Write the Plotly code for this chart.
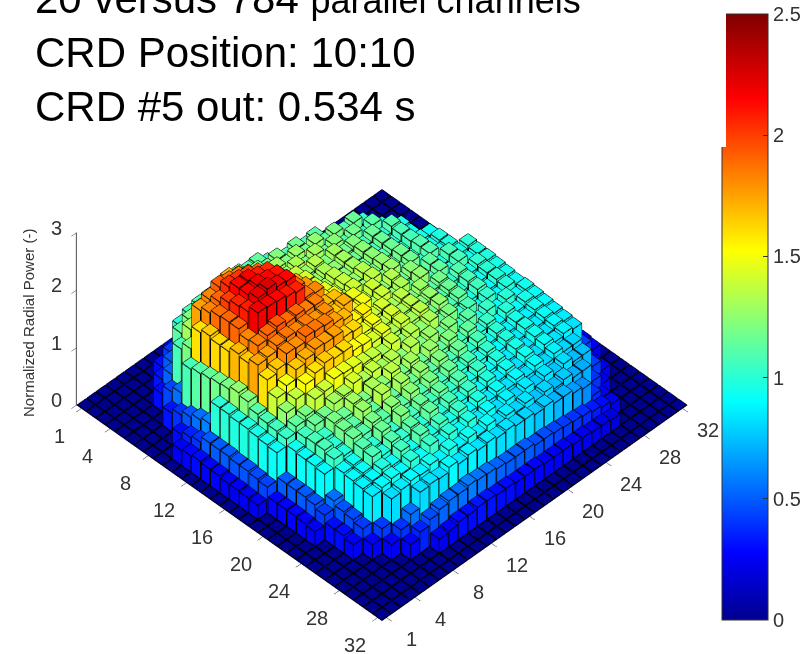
import numpy as np
import plotly.graph_objects as go

TITLE_LINE_1 = '20 versus 784 <span style="font-size:36px">parallel channels</span>'
TITLE_LINE_2 = 'CRD Position: 10:10'
TITLE_LINE_3 = 'CRD #5 out: 0.534 s'
Z_TITLE = 'Normalized Radial Power (-)'
AXIS_TICKS = [1, 4, 8, 12, 16, 20, 24, 28, 32]
Z_TICKS = [0, 1, 2, 3]
CBAR_TICKS = [0, 0.5, 1, 1.5, 2, 2.5]
CBAR_TICKTEXT = ['0', '0.5', '1', '1.5', '2', '2.5']

# (number of empty leading channels, channel values) per row
rows = [
 (0, []),
 (8, [.24,.28,.3,.3,.3,.26,.24]),
 (6, [.3,.42,.5,.55,.58,.58,.55,.55,.5,.48,.4,.3]),
 (5, [.32,.5,1.0,1.08,1.12,1.08,1.15,1.12,1.18,1.12,1.14,1.02,.98,.6,.36]),
 (4, [.3,.52,1.12,1.22,1.28,1.2,1.3,1.2,1.26,1.18,1.24,1.16,1.22,1.12,1.18,1.08,1.12,.6,.34]),
 (4, [.45,1.08,1.3,1.52,1.6,1.66,1.7,1.62,1.48,1.42,1.26,1.3,1.22,1.28,1.18,1.26,1.14,1.2,1.1,1.16,1.02,.55,.32]),
 (3, [.32,.55,1.2,1.75,1.82,1.92,1.88,1.84,1.76,1.66,1.46,1.4,1.26,1.32,1.2,1.3,1.16,1.24,1.1,1.18,1.02,1.12,.95,.52,.3]),
 (3, [.4,1.08,1.6,1.82,1.9,2.04,2.02,1.98,1.9,1.78,1.6,1.38,1.38,1.28,1.34,1.22,1.3,1.18,1.22,1.08,1.16,1.0,1.1,.96,.52,.32]),
 (2, [.3,.48,1.12,1.66,1.88,2.0,2.14,2.15,2.08,2.04,1.84,1.66,1.42,1.42,1.26,1.32,1.24,1.3,1.16,1.24,1.08,1.16,.98,1.08,.94,.54,.32]),
 (1, [.26,.36,.55,1.15,1.62,1.9,2.06,2.14,2.18,2.14,2.1,1.86,1.72,1.46,1.42,1.28,1.36,1.24,1.3,1.16,1.24,1.1,1.16,.98,1.08,.96,.94,.52,.3]),
 (1, [.28,.4,.6,1.18,1.62,1.9,2.08,2.2,2.24,2.16,2.14,1.9,1.78,1.52,1.46,1.3,1.38,1.26,1.34,1.18,1.26,1.08,1.18,.98,1.1,.94,.98,.54,.32]),
 (1, [.3,.5,1.0,1.2,1.7,1.82,2.18,2.16,2.14,2.1,2.06,1.86,1.82,1.56,1.5,1.32,1.4,1.26,1.36,1.2,1.28,1.1,1.18,1.0,1.1,.96,.98,.56,.32]),
 (1, [.28,.5,1.0,1.26,1.66,1.84,1.9,1.94,1.88,1.9,1.84,1.84,1.7,1.68,1.42,1.48,1.3,1.4,1.24,1.34,1.16,1.24,1.04,1.14,.98,1.08,.96,1.0,.52,.3]),
 (1, [.28,.5,.98,1.22,1.74,1.76,1.84,1.86,1.82,1.84,1.78,1.8,1.66,1.72,1.46,1.5,1.32,1.4,1.24,1.32,1.14,1.26,1.06,1.14,.98,1.08,.94,.98,.52,.3]),
 (1, [.26,.48,.98,1.12,1.6,1.66,1.82,1.8,1.88,1.86,1.84,1.76,1.7,1.54,1.56,1.38,1.42,1.3,1.36,1.2,1.28,1.12,1.18,1.02,1.1,.96,1.02,.98,.5,.3]),
 (1, [.26,.48,.96,1.08,1.4,1.5,1.66,1.72,1.78,1.76,1.76,1.64,1.62,1.46,1.5,1.34,1.42,1.32,1.36,1.22,1.26,1.1,1.16,.98,1.08,.94,1.0,.96,.5,.3]),
 (1, [.25,.46,.94,1.06,1.26,1.38,1.52,1.6,1.66,1.62,1.62,1.52,1.5,1.42,1.46,1.32,1.4,1.3,1.36,1.18,1.26,1.08,1.14,.96,1.06,.92,1.0,.94,.5,.3]),
 (1, [.24,.44,.92,1.04,1.14,1.2,1.38,1.4,1.5,1.48,1.46,1.4,1.38,1.32,1.4,1.26,1.34,1.26,1.32,1.14,1.2,1.04,1.08,.92,1.02,.9,.98,.92,.48,.28]),
 (2, [.28,.5,.94,1.06,1.16,1.18,1.3,1.32,1.42,1.32,1.38,1.3,1.34,1.24,1.34,1.22,1.28,1.16,1.22,1.06,1.12,.96,1.04,.92,1.0,.9,.94,.48,.28]),
 (2, [.28,.5,.92,1.08,1.04,1.2,1.16,1.3,1.2,1.32,1.24,1.36,1.2,1.3,1.16,1.28,1.14,1.22,1.06,1.14,.98,1.04,.9,1.0,.9,.96,.92,.48,.28]),
 (2, [.28,.5,.92,1.08,1.0,1.18,1.12,1.28,1.14,1.34,1.14,1.3,1.16,1.26,1.12,1.22,1.08,1.16,1.0,1.08,.92,1.0,.88,.96,.88,.94,.9,.46,.26]),
 (2, [.27,.48,.9,1.04,.98,1.16,1.1,1.2,1.12,1.24,1.12,1.24,1.1,1.2,1.06,1.16,1.02,1.08,.96,1.02,.9,.98,.86,.96,.86,.92,.88,.46,.26]),
 (2, [.25,.42,.55,.92,.94,1.1,1.0,1.16,1.02,1.2,1.06,1.16,1.06,1.14,1.02,1.1,.96,1.04,.9,.98,.86,.96,.84,.94,.84,.9,.86,.44,.26]),
 (3, [.3,.48,.9,.92,1.08,.98,1.1,1.02,1.12,1.0,1.14,.98,1.08,.96,1.04,.9,.98,.86,.94,.84,.94,.82,.92,.84,.88,.84,.42,.24]),
 (3, [.3,.46,.88,.9,.98,.92,1.06,.94,1.1,.96,1.06,.96,1.04,.9,.98,.86,.92,.84,.9,.82,.9,.8,.88,.8,.8,.44,.24]),
 (3, [.26,.42,.86,.9,.94,.9,1.0,.92,1.04,.92,1.0,.9,.98,.86,.92,.82,.88,.8,.86,.78,.84,.76,.82,.74,.74,.42,.24]),
 (4, [.26,.42,.82,.86,.9,.88,.94,.88,.96,.88,.94,.86,.92,.82,.86,.8,.84,.76,.8,.74,.78,.7,.7,.4,.24]),
 (5, [.26,.4,.55,.82,.84,.82,.9,.84,.88,.84,.86,.82,.84,.8,.8,.76,.78,.72,.72,.66,.62,.38,.24]),
 (6, [.26,.36,.46,.52,.55,.55,.58,.56,.55,.52,.5,.5,.5,.46,.46,.44,.42,.4,.38,.34,.3,.24]),
 (8, [.24,.26,.3,.3,.32,.32,.3,.3,.28,.28,.28,.26,.26,.26,.24,.24,.22,.22,.2]),
 (0, []),
 (0, []),
]

JET = [[0, 'rgb(0,0,143)'], [0.11, 'rgb(0,0,255)'], [0.36, 'rgb(0,255,255)'],
       [0.61, 'rgb(255,255,0)'], [0.86, 'rgb(255,0,0)'], [1, 'rgb(128,0,0)']]

power = np.zeros((32, 32))
for r, (lead, vals) in enumerate(rows):
    power[r, lead:lead + len(vals)] = vals

HW = 0.45
FLOOR = 0.006
vx, vy, vz, fi, fj, fk, fc = [], [], [], [], [], [], []
lx, ly, lz = [], [], []

# floor plane behind the gaps between the bars
vx += [0.5, 32.5, 32.5, 0.5]; vy += [0.5, 0.5, 32.5, 32.5]; vz += [0, 0, 0, 0]
fi += [0, 0]; fj += [1, 2]; fk += [2, 3]; fc += [0, 0]

for r in range(32):
    for c in range(32):
        v = float(power[r, c])
        x0, x1 = r + 1 - HW, r + 1 + HW
        y0, y1 = c + 1 - HW, c + 1 + HW
        top = max(v, FLOOR)
        n = len(vx)
        vx += [x0, x1, x1, x0, x0, x1, x1, x0]
        vy += [y0, y0, y1, y1, y0, y0, y1, y1]
        vz += [FLOOR] * 4 + [top] * 4
        quads = [(4, 5, 6, 7)]
        if v > 0:
            quads += [(0, 1, 5, 4), (1, 2, 6, 5), (2, 3, 7, 6), (3, 0, 4, 7)]
        for a, b, d, e in quads:
            fi += [n + a, n + a]; fj += [n + b, n + d]; fk += [n + d, n + e]
            fc += [v, v]
        lx += [x0, x1, x1, x0, x0, None]; ly += [y0, y0, y1, y1, y0, None]; lz += [top] * 5 + [None]
        if v > 0:
            for px, py in [(x0, y0), (x1, y0), (x1, y1), (x0, y1)]:
                lx += [px, px, None]; ly += [py, py, None]; lz += [FLOOR, top, None]
            lx += [x0, x1, x1, x0, x0, None]; ly += [y0, y0, y1, y1, y0, None]; lz += [FLOOR] * 5 + [None]

mesh = go.Mesh3d(
    x=vx, y=vy, z=vz, i=fi, j=fj, k=fk, intensity=fc, intensitymode='cell',
    colorscale=JET, cmin=0, cmax=2.5, flatshading=True, hoverinfo='skip',
    lighting=dict(ambient=1, diffuse=0, specular=0, roughness=1, fresnel=0),
    colorbar=dict(
        x=722 / 807, xanchor='left', xpad=0, ypad=0,
        y=1 - 317 / 654, yanchor='middle',
        thickness=46, thicknessmode='pixels', len=606, lenmode='pixels',
        tickvals=CBAR_TICKS, ticktext=CBAR_TICKTEXT, ticks='inside', ticklen=5,
        tickcolor='#333', outlinecolor='#333', outlinewidth=1, borderwidth=0,
        tickfont=dict(family='Liberation Sans', size=20, color='#333')),
)
edges = go.Scatter3d(x=lx, y=ly, z=lz, mode='lines', hoverinfo='skip', showlegend=False,
                     line=dict(color='black', width=2))

axis = dict(range=[0.5, 32.5], tickmode='array', tickvals=AXIS_TICKS, showticklabels=False,
            showgrid=False, zeroline=False, showbackground=False, showspikes=False,
            showline=False, ticks='outside', ticklen=7, tickcolor='#333', title=dict(text=''))

LABEL_FONT = dict(family='Liberation Sans', size=20, color='#333')
scene_labels = (
    [dict(x=t, y=0.5, z=0, text=str(t), showarrow=False, xshift=-22, yshift=-27, font=LABEL_FONT) for t in AXIS_TICKS]
    + [dict(x=32.5, y=t, z=0, text=str(t), showarrow=False, xshift=25, yshift=-21, font=LABEL_FONT) for t in AXIS_TICKS]
    + [dict(x=0.5, y=0.5, z=t, text=str(t), showarrow=False, xshift=-20, yshift=5, font=LABEL_FONT) for t in Z_TICKS]
)

fig = go.Figure([mesh, edges])
fig.update_layout(
    width=807, height=654, margin=dict(l=0, r=0, t=0, b=0), paper_bgcolor='white', showlegend=False,
    scene=dict(
        domain=dict(x=[0, 764 / 807], y=[16 / 654, 1]),
        xaxis=axis, yaxis=axis,
        zaxis=dict(range=[0, 3], tickmode='array', tickvals=Z_TICKS, showticklabels=False,
                   showgrid=False, zeroline=False, showbackground=False, showspikes=False,
                   showline=True, linecolor='#333', linewidth=2, ticks='outside', ticklen=7, tickcolor='#333',
                   title=dict(text='')),
        aspectmode='manual', aspectratio=dict(x=1.355, y=1.355, z=0.764),
        camera=dict(projection=dict(type='orthographic'), eye=dict(x=0.836, y=-0.836, z=1.18),
                    center=dict(x=0, y=0, z=0), up=dict(x=0, y=0, z=1)),
        annotations=scene_labels,
    ),
    annotations=[
        dict(text=TITLE_LINE_1, x=33 / 807, y=1 + 2 / 654, xref='paper', yref='paper', xanchor='left', yanchor='middle',
             showarrow=False, font=dict(family='Liberation Sans', size=42, color='black')),
        dict(text=TITLE_LINE_2, x=33 / 807, y=1 - 52 / 654, xref='paper', yref='paper', xanchor='left', yanchor='middle',
             showarrow=False, font=dict(family='Liberation Sans', size=42, color='black')),
        dict(text=TITLE_LINE_3, x=33 / 807, y=1 - 107 / 654, xref='paper', yref='paper', xanchor='left', yanchor='middle',
             showarrow=False, font=dict(family='Liberation Sans', size=42, color='black')),
        dict(text=Z_TITLE, x=28 / 807, y=1 - 323 / 654, xref='paper', yref='paper', xanchor='center', yanchor='middle',
             textangle=-90, showarrow=False, font=dict(family='Liberation Sans', size=15, color='#333')),
        dict(text=' ', x=726 / 807, y=1, xref='paper', yref='paper', xanchor='right', yanchor='top',
             showarrow=False, width=6, height=147, bgcolor='white', borderpad=0, borderwidth=0,
             font=dict(size=1)),
    ],
)
fig.write_html('out.html', config=dict(displayModeBar=False),
               post_script="document.body.style.margin='0';document.documentElement.style.overflow='hidden';")
